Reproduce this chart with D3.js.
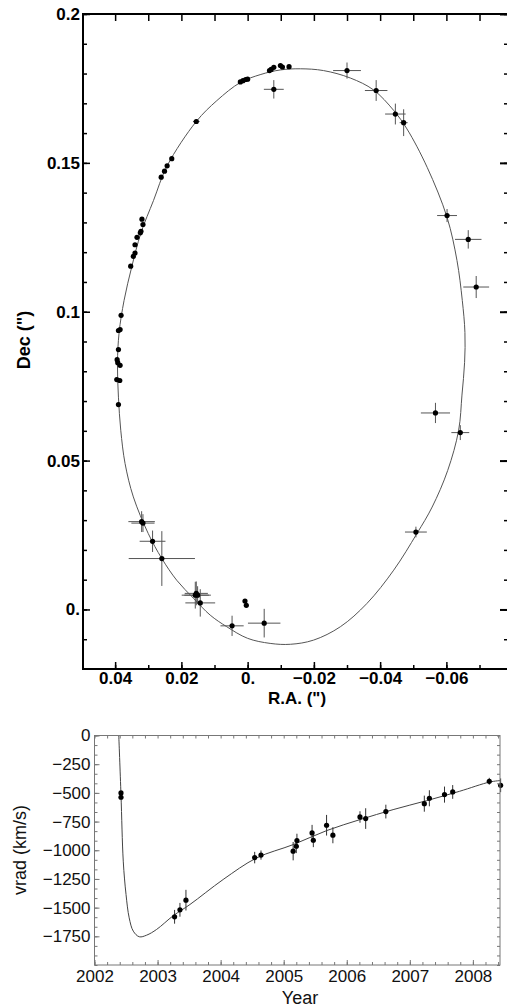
<!DOCTYPE html>
<html>
<head>
<meta charset="utf-8">
<script src="https://cdn.jsdelivr.net/npm/d3@7"></script>
<style>
body { margin: 0; background: #fff; }
svg { display: block; font-family: "Liberation Sans", Arial, sans-serif; }
</style>
</head>
<body>
<div id="chart"></div>
<script>
// astrometric positions (arcsec) and errors
var posRA = [0.0390, 0.0395, 0.0386, 0.0385, 0.0392, 0.0394, 0.0390, 0.0390, 0.0385, 0.0382,
             0.0353, 0.0345, 0.0340, 0.0340, 0.0334, 0.0324, 0.0322, 0.0316, 0.0319,
             0.0261, 0.0251, 0.0243, 0.0229, 0.0155,
             0.0022, 0.0014, 0.0006, 0.0000, -0.0066, -0.0071, -0.0079, -0.0099, -0.0105, -0.0125,
             0.0008, 0.0004,
             -0.0079, -0.0300, -0.0388, -0.0446, -0.0471, -0.0602, -0.0666, -0.0690,
             -0.0567, -0.0642, -0.0508, -0.0050, 0.0047, 0.0143, 0.0158, 0.0151, 0.0155,
             0.0259, 0.0287, 0.0320, 0.0316];
var posDec = [0.0688, 0.0772, 0.0769, 0.0820, 0.0829, 0.0839, 0.0873, 0.0937, 0.0940, 0.0988,
              0.1153, 0.1186, 0.1197, 0.1225, 0.1250, 0.1265, 0.1270, 0.1293, 0.1311,
              0.1452, 0.1472, 0.1490, 0.1514, 0.1639,
              0.1772, 0.1776, 0.1780, 0.1781, 0.1810, 0.1814, 0.1821, 0.1827, 0.1822, 0.1823,
              0.0028, 0.0014,
              0.1747, 0.1810, 0.1743, 0.1664, 0.1635, 0.1323, 0.1243, 0.1083,
              0.0660, 0.0594, 0.0260, -0.0046, -0.0055, 0.0022, 0.0048, 0.0048, 0.0054,
              0.0171, 0.0229, 0.0295, 0.0290];
var errRA = [0, 0, 0, 0, 0, 0, 0, 0, 0, 0,
             0, 0, 0, 0, 0, 0, 0, 0, 0,
             0, 0, 0, 0, 0.0010,
             0, 0, 0, 0, 0, 0, 0, 0, 0, 0,
             0, 0,
             0.0030, 0.0042, 0.0034, 0.0031, 0.0012, 0.0030, 0.0040, 0.0039,
             0.0044, 0.0027, 0.0033, 0.0049, 0.0035, 0.0045, 0.0041, 0.0040, 0.0035,
             0.0100, 0.0039, 0.0040, 0.0035];
var errDec = [0, 0, 0, 0, 0, 0, 0, 0, 0, 0,
              0, 0, 0, 0, 0, 0, 0, 0, 0,
              0, 0, 0, 0, 0.0008,
              0, 0, 0, 0, 0, 0, 0, 0, 0, 0,
              0, 0,
              0.0031, 0.0027, 0.0035, 0.0035, 0.0045, 0.0022, 0.0031, 0.0037,
              0.0034, 0.0025, 0.0018, 0.0048, 0.0034, 0.0046, 0.0045, 0.0030, 0.0040,
              0.0092, 0.0036, 0.0035, 0.0030];

// fitted orbit
var orbitRA = [0.0022, -0.0040, -0.0098, -0.0159, -0.0229, -0.0310, -0.0380, -0.0441, -0.0481,
               -0.0542, -0.0602, -0.0632, -0.0648, -0.0656, -0.0655, -0.0647, -0.0637, -0.0604, -0.0557,
               -0.0511, -0.0441, -0.0360, -0.0280, -0.0199, -0.0129, -0.0068, 0.0000, 0.0063,
               0.0113, 0.0163, 0.0214, 0.0259, 0.0300, 0.0345, 0.0370, 0.0383, 0.0390, 0.0393,
               0.0388, 0.0373, 0.0350, 0.0322, 0.0284, 0.0243, 0.0155, 0.0093];
var orbitDec = [0.1770, 0.1797, 0.1812, 0.1816, 0.1810, 0.1785, 0.1745, 0.1676, 0.1614,
                0.1485, 0.1317, 0.1172, 0.1038, 0.0930, 0.0830, 0.0720, 0.0602, 0.0467, 0.0344,
                0.0255, 0.0132, 0.0020, -0.0058, -0.0103, -0.0117, -0.0114, -0.0097, -0.0058,
                -0.0019, 0.0037, 0.0098, 0.0171, 0.0255, 0.0378, 0.0490, 0.0602, 0.0713, 0.0826,
                0.0930, 0.1038, 0.1150, 0.1265, 0.1374, 0.1490, 0.1639, 0.1709];

var raTicks = [0.04, 0.02, 0, -0.02, -0.04, -0.06];
var raLabels = ["0.04", "0.02", "0.", "\u22120.02", "\u22120.04", "\u22120.06"];
var decTicks = [0, 0.05, 0.1, 0.15, 0.2];
var decLabels = ["0.", "0.05", "0.1", "0.15", "0.2"];

// radial velocities (km/s)
var velYear = [2002.42, 2002.42, 2003.27, 2003.355, 2003.45, 2004.54, 2004.64, 2005.15, 2005.20,
               2005.21, 2005.45, 2005.47, 2005.68, 2005.78, 2006.21, 2006.30, 2006.62, 2007.23,
               2007.31, 2007.55, 2007.68, 2008.26, 2008.44];
var velValue = [-500, -538, -1580, -1519, -1435, -1064, -1042, -1008, -965,
                -916, -849, -913, -782, -869, -710, -724, -663, -594,
                -547, -515, -492, -399, -434];
var velErr = [15, 15, 60, 60, 90, 50, 40, 80, 60,
              60, 70, 60, 90, 70, 50, 90, 60, 70,
              70, 70, 60, 30, 60];

var fitYear = [2002.385, 2002.42, 2002.456, 2002.50, 2002.55, 2002.615, 2002.71, 2002.827, 2002.985,
               2003.25, 2003.513, 2004.04, 2004.57, 2005.15, 2005.68, 2006.21, 2006.735, 2007.265,
               2007.79, 2008.27, 2008.45];
var fitVel = [0, -515, -1095, -1386, -1589, -1705, -1754, -1740, -1690,
              -1570, -1473, -1255, -1067, -951, -829, -733, -646, -568,
              -486, -405, -392];

var yearTicks = [2002, 2003, 2004, 2005, 2006, 2007, 2008];
var yearLabels = ["2002", "2003", "2004", "2005", "2006", "2007", "2008"];
var velTicks = [0, -250, -500, -750, -1000, -1250, -1500, -1750];
var velLabels = ["0", "\u2212250", "\u2212500", "\u2212750", "\u22121000", "\u22121250", "\u22121500", "\u22121750"];

var svg = d3.select("#chart")
    .append("svg")
      .attr("width", 507)
      .attr("height", 1008);

// ---------- orbit panel ----------
var oLeft = 83, oTop = 14, oRight = 508, oBottom = 669;

var x = d3.scaleLinear().domain([0.0497, -0.0786]).range([oLeft, oRight]),
    y = d3.scaleLinear().domain([-0.02, 0.2]).range([oBottom, oTop]);

var minorRA = d3.range(-0.07, 0.0451, 0.01).map(function(d) { return +d.toFixed(2); });
var minorDec = d3.range(-0.01, 0.2001, 0.01).map(function(d) { return +d.toFixed(2); });

var orbitData = orbitRA.map(function(d, i) { return [d, orbitDec[i]]; });
var orbitLine = d3.line()
    .x(function(d) { return x(d[0]); })
    .y(function(d) { return y(d[1]); })
    .curve(d3.curveCatmullRomClosed);

svg.append("path")
    .attr("d", orbitLine(orbitData))
    .attr("fill", "none")
    .attr("stroke", "#555")
    .attr("stroke-width", 1);

var pts = posRA.map(function(d, i) {
  return {ra: d, dec: posDec[i], era: errRA[i], edec: errDec[i]};
});

var bars = svg.append("g")
    .attr("stroke", "#555")
    .attr("stroke-width", 1);

bars.selectAll(".eh")
    .data(pts.filter(function(d) { return d.era > 0; }))
  .enter().append("line")
    .attr("x1", function(d) { return x(d.ra + d.era); })
    .attr("x2", function(d) { return x(d.ra - d.era); })
    .attr("y1", function(d) { return y(d.dec); })
    .attr("y2", function(d) { return y(d.dec); });

bars.selectAll(".ev")
    .data(pts.filter(function(d) { return d.edec > 0; }))
  .enter().append("line")
    .attr("x1", function(d) { return x(d.ra); })
    .attr("x2", function(d) { return x(d.ra); })
    .attr("y1", function(d) { return y(d.dec + d.edec); })
    .attr("y2", function(d) { return y(d.dec - d.edec); });

svg.append("g").selectAll("circle")
    .data(pts)
  .enter().append("circle")
    .attr("cx", function(d) { return x(d.ra); })
    .attr("cy", function(d) { return y(d.dec); })
    .attr("r", 2.6)
    .attr("fill", "#000");

// axes, ticks point inward
function styleAxis(g, w) {
  g.select(".domain").remove();
  g.selectAll(".tick line").attr("stroke", "#000").attr("stroke-width", w);
}

svg.append("g")
    .attr("transform", "translate(0," + oBottom + ")")
    .call(d3.axisBottom(x).tickValues(minorRA).tickSize(-4).tickFormat(""))
    .call(styleAxis, 1.5);

svg.append("g")
    .attr("class", "axis axis--x")
    .attr("transform", "translate(0," + oBottom + ")")
    .call(d3.axisBottom(x).tickValues(raTicks).tickSize(-7).tickPadding(3)
      .tickFormat(function(d, i) { return raLabels[i]; }))
    .call(styleAxis, 1.5);

svg.append("g")
    .attr("transform", "translate(0," + oTop + ")")
    .call(d3.axisTop(x).tickValues(minorRA).tickSize(-7).tickFormat(""))
    .call(styleAxis, 1.5);

svg.append("g")
    .attr("transform", "translate(" + oLeft + ",0)")
    .call(d3.axisLeft(y).tickValues(minorDec).tickSize(-4).tickFormat(""))
    .call(styleAxis, 1.5);

svg.append("g")
    .attr("class", "axis axis--y")
    .attr("transform", "translate(" + oLeft + ",0)")
    .call(d3.axisLeft(y).tickValues(decTicks).tickSize(-7).tickPadding(3)
      .tickFormat(function(d, i) { return decLabels[i]; }))
    .call(styleAxis, 1.5);

svg.append("g")
    .attr("transform", "translate(" + oRight + ",0)")
    .call(d3.axisRight(y).tickValues(minorDec).tickSize(-4).tickFormat(""))
    .call(styleAxis, 1.5);

svg.append("g")
    .attr("transform", "translate(" + oRight + ",0)")
    .call(d3.axisRight(y).tickValues(decTicks).tickSize(-8).tickFormat(""))
    .call(styleAxis, 2);

svg.selectAll(".axis text")
    .attr("font-family", "Liberation Sans, Arial, sans-serif")
    .attr("font-size", "17px")
    .attr("font-weight", "bold")
    .attr("fill", "#000");

svg.append("rect")
    .attr("x", oLeft)
    .attr("y", oTop)
    .attr("width", oRight - oLeft)
    .attr("height", oBottom - oTop)
    .attr("fill", "none")
    .attr("stroke", "#000")
    .attr("stroke-width", 2);

svg.append("text")
    .attr("transform", "translate(24,340) rotate(-90)")
    .attr("text-anchor", "middle")
    .attr("dy", "0.35em")
    .attr("font-size", "18px")
    .attr("font-weight", "bold")
    .text("Dec (\")");

svg.append("text")
    .attr("x", 297)
    .attr("y", 704)
    .attr("text-anchor", "middle")
    .attr("font-size", "17px")
    .attr("font-weight", "bold")
    .text("R.A. (\")");

// ---------- velocity panel ----------
var vLeft = 94.5, vTop = 735.5, vRight = 500, vBottom = 965;

var x2 = d3.scaleLinear().domain([2002, 2008.43]).range([vLeft, vRight]),
    y2 = d3.scaleLinear().domain([-2000, 0]).range([vBottom, vTop]);

svg.append("defs").append("clipPath")
    .attr("id", "clip")
  .append("rect")
    .attr("x", vLeft)
    .attr("y", vTop)
    .attr("width", vRight - vLeft)
    .attr("height", vBottom - vTop);

var fitData = fitYear.map(function(d, i) { return [d, fitVel[i]]; });
var fitLine = d3.line()
    .x(function(d) { return x2(d[0]); })
    .y(function(d) { return y2(d[1]); })
    .curve(d3.curveCatmullRom);

svg.append("path")
    .attr("clip-path", "url(#clip)")
    .attr("d", fitLine(fitData))
    .attr("fill", "none")
    .attr("stroke", "#444")
    .attr("stroke-width", 1);

var vpts = velYear.map(function(d, i) { return {t: d, v: velValue[i], e: velErr[i]}; });

svg.append("g").selectAll("line")
    .data(vpts)
  .enter().append("line")
    .attr("x1", function(d) { return x2(d.t); })
    .attr("x2", function(d) { return x2(d.t); })
    .attr("y1", function(d) { return y2(d.v + d.e); })
    .attr("y2", function(d) { return y2(d.v - d.e); })
    .attr("stroke", "#333")
    .attr("stroke-width", 1);

svg.append("g").selectAll("circle")
    .data(vpts)
  .enter().append("circle")
    .attr("cx", function(d) { return x2(d.t); })
    .attr("cy", function(d) { return y2(d.v); })
    .attr("r", 2.6)
    .attr("fill", "#000");

var minorYear = d3.range(0, 33).map(function(i) { return 2002 + i * 0.2; });
var minorVel = d3.range(0, 25).map(function(i) { return -i * 250 / 3; });

function styleAxis2(g) {
  g.select(".domain").remove();
  g.selectAll(".tick line").attr("stroke", "#777").attr("stroke-width", 1);
}

svg.append("g")
    .attr("transform", "translate(0," + vBottom + ")")
    .call(d3.axisBottom(x2).tickValues(minorYear).tickSize(-3).tickFormat(""))
    .call(styleAxis2);

svg.append("g")
    .attr("class", "axis2")
    .attr("transform", "translate(0," + vBottom + ")")
    .call(d3.axisBottom(x2).tickValues(yearTicks).tickSize(-5).tickPadding(5)
      .tickFormat(function(d, i) { return yearLabels[i]; }))
    .call(styleAxis2);

svg.append("g")
    .attr("transform", "translate(0," + vTop + ")")
    .call(d3.axisTop(x2).tickValues(minorYear).tickSize(-3).tickFormat(""))
    .call(styleAxis2);

svg.append("g")
    .attr("transform", "translate(" + vLeft + ",0)")
    .call(d3.axisLeft(y2).tickValues(minorVel).tickSize(-3).tickFormat(""))
    .call(styleAxis2);

svg.append("g")
    .attr("class", "axis2")
    .attr("transform", "translate(" + vLeft + ",0)")
    .call(d3.axisLeft(y2).tickValues(velTicks).tickSize(-5).tickPadding(4)
      .tickFormat(function(d, i) { return velLabels[i]; }))
    .call(styleAxis2);

svg.append("g")
    .attr("transform", "translate(" + vRight + ",0)")
    .call(d3.axisRight(y2).tickValues(minorVel).tickSize(-3).tickFormat(""))
    .call(styleAxis2);

svg.selectAll(".axis2 text")
    .attr("font-family", "Liberation Sans, Arial, sans-serif")
    .attr("font-size", "17px")
    .attr("fill", "#111");

svg.append("rect")
    .attr("x", vLeft)
    .attr("y", vTop)
    .attr("width", vRight - vLeft)
    .attr("height", vBottom - vTop)
    .attr("fill", "none")
    .attr("stroke", "#777")
    .attr("stroke-width", 1);

svg.append("text")
    .attr("transform", "translate(20,850) rotate(-90)")
    .attr("text-anchor", "middle")
    .attr("dy", "0.35em")
    .attr("font-size", "18px")
    .attr("fill", "#111")
    .text("vrad (km/s)");

svg.append("text")
    .attr("x", 300)
    .attr("y", 1004)
    .attr("text-anchor", "middle")
    .attr("font-size", "18px")
    .attr("fill", "#111")
    .text("Year");
</script>
</body>
</html>
